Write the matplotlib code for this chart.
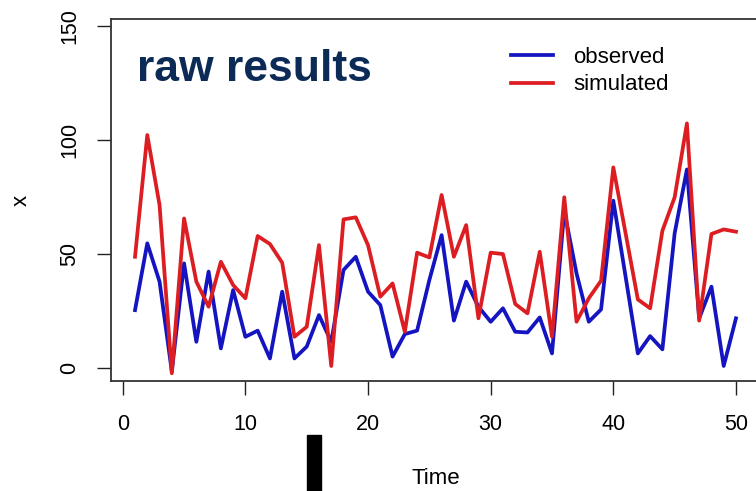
import numpy as np
import matplotlib
matplotlib.use("Agg")
import matplotlib.pyplot as plt
from matplotlib.patches import Rectangle

# values
time = np.arange(1, 51)
observed = [25.4, 54.7, 37.9, -1.5, 45.9, 11.5, 42.3, 8.6, 34.2, 13.7,
            16.4, 4.2, 33.5, 4.2, 9.4, 23.2, 11.5, 43.0, 48.8, 33.5,
            27.6, 5.0, 14.9, 16.4, 38.6, 58.3, 20.8, 37.9, 26.9, 20.3,
            26.2, 15.9, 15.6, 22.2, 6.4, 69.0, 41.5, 20.3, 25.7, 73.4,
            40.1, 6.4, 14.0, 8.2, 59.1, 87.1, 21.8, 35.7, 0.9, 21.8]
simulated = [48.8, 102.2, 71.5, -2.3, 65.6, 37.9, 26.9, 46.6, 36.4, 30.6,
             57.9, 54.4, 46.2, 13.7, 18.1, 53.9, 0.9, 65.2, 66.1, 53.9,
             31.3, 37.1, 15.9, 50.6, 48.5, 75.9, 48.8, 62.7, 21.8, 50.6,
             50.0, 28.1, 24.0, 51.0, 13.7, 74.9, 20.3, 30.6, 38.3, 88.0,
             59.1, 30.1, 26.2, 60.2, 74.9, 107.3, 20.8, 58.8, 60.8, 59.8]
xticks = [0, 10, 20, 30, 40, 50]
yticks = [0, 50, 100, 150]

plt.rcParams['font.family'] = ['Liberation Sans', 'DejaVu Sans']

fig = plt.figure(figsize=(7.56, 4.91), dpi=100)
ax = fig.add_axes([0.1468, 0.224, 0.8585, 0.7373])

ax.plot(time, observed, color='#1414c0', lw=2.7, label='observed')
ax.plot(time, simulated, color='#dc1e23', lw=2.7, label='simulated')

ax.set_xlim(-0.96, 51.96)
ax.set_ylim(-5.7, 153.1)
ax.set_xticks(xticks)
ax.set_yticks(yticks)
ax.tick_params(direction='out', length=10, width=1.0, color='#222222',
               labelsize=15.5)
ax.tick_params(axis='x', pad=14)
ax.tick_params(axis='y', pad=12)
for lab in ax.get_yticklabels():
    lab.set_rotation(90)
    lab.set_va('center')
for sp in ax.spines.values():
    sp.set_color('#333333')
    sp.set_linewidth(1.3)

ax.set_xlabel('Time', fontsize=16, va='center')
ax.xaxis.set_label_coords(0.5, -0.268)
ax.set_ylabel('x', fontsize=16, va='center')
ax.yaxis.set_label_coords(-0.139, 0.5)

ax.text(0.04, 0.83, 'raw results', transform=ax.transAxes, fontsize=32,
        fontweight='bold', color='#0b2a55', va='baseline')

ax.legend(loc='upper left', bbox_to_anchor=(0.676, 0.905),
          bbox_transform=fig.transFigure, frameon=False, fontsize=16,
          handlelength=1.9, handletextpad=0.9, labelspacing=0.3,
          borderpad=0, borderaxespad=0)

# black bar at the bottom of the original image
fig.patches.append(Rectangle((0.406, 0.0), 0.0185, 0.114,
                             transform=fig.transFigure, color='black'))

fig.savefig('out.png', dpi=100)
